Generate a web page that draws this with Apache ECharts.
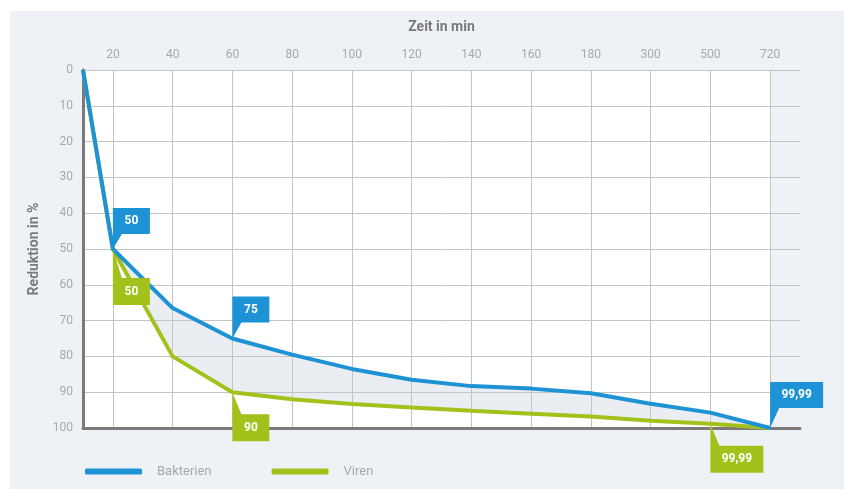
<!DOCTYPE html>
<html><head><meta charset="utf-8">
<script src="https://cdn.jsdelivr.net/npm/echarts@6/dist/echarts.min.js"></script>
<style>html,body{margin:0;padding:0;background:#fff}#c{width:844px;height:489px}</style>
</head><body><div id="c"></div>
<script>
// ---- data ----
const timeLabels = ['20','40','60','80','100','120','140','160','180','300','500','720'];
const times = [0,20,40,60,80,100,120,140,160,180,300,500,720];
const bakterien = [0,50,66.5,75,79.5,83.5,86.5,88.3,89,90.3,93.2,95.7,99.99];
const viren = [0,50,80,90,92,93.3,94.3,95.2,96,96.8,98,98.8,99.99];
const bakterienCallouts = [{t:20,text:'50'},{t:60,text:'75'},{t:720,text:'99,99'}];
const virenCallouts = [{t:20,text:'50'},{t:60,text:'90'},{t:500,text:'99,99'}];

// ---- helpers ----
const BLUE = '#1d92d4', GREEN = '#a2c21b';
const FONT = 'Roboto';
function xOf(t){ return t === 0 ? -0.5 : timeLabels.indexOf(String(t)); }
function yAt(arr, t){ return arr[times.indexOf(t)]; }
function calloutDown(item, arr, t){
  const w = item.text.length > 2 ? 53 : 37, h = 26;
  return {
    name: item.text, coord: [xOf(item.t), yAt(arr, item.t)],
    symbol: `path://M0 0 L${w} 0 L${w} ${h} L9 ${h} L0 ${h+t} Z`,
    symbolSize: [w, h+t], symbolOffset: [w/2, -(h+t)/2],
    label: { offset: [0, -t/2] }
  };
}
function calloutUp(item, arr, t){
  const w = item.text.length > 2 ? 53 : 37, h = 27;
  return {
    name: item.text, coord: [xOf(item.t), yAt(arr, item.t)],
    symbol: `path://M0 0 L9 ${t} L${w} ${t} L${w} ${t+h} L0 ${t+h} Z`,
    symbolSize: [w, h+t], symbolOffset: [w/2, (h+t)/2],
    label: { offset: [0, t/2] }
  };
}
const xs = times.map(xOf);
const mpLabel = { show: true, formatter: '{b}', color: '#fff', fontSize: 12, fontWeight: 'bold', fontFamily: FONT };

const chart = echarts.init(document.getElementById('c'), null, { renderer: 'canvas' });
chart.setOption({
  animation: false,
  backgroundColor: '#ffffff',
  textStyle: { fontFamily: FONT },
  grid: { left: 83, right: 44, top: 70, bottom: 61, containLabel: false },
  legend: {
    left: 80, top: 460, itemWidth: 57, itemHeight: 6, itemGap: 60, icon: 'roundRect',
    data: ['Bakterien', 'Viren'],
    textStyle: { color: '#a8a8a8', fontSize: 13, fontFamily: FONT, padding: [0,0,0,10] },
    selectedMode: false
  },
  xAxis: [
    {
      type: 'category', position: 'top', data: timeLabels, boundaryGap: true,
      name: 'Zeit in min', nameLocation: 'middle', nameGap: 36,
      nameTextStyle: { color: '#7a7a7a', fontSize: 14, fontWeight: 'bold', fontFamily: FONT },
      axisLine: { show: true, lineStyle: { color: '#c4c4c4', width: 1 } },
      axisTick: { show: false },
      axisLabel: { interval: 0, color: '#a8a8a8', fontSize: 12, margin: 9, fontFamily: FONT },
      splitLine: { show: true, interval: 0, alignWithLabel: true, lineStyle: { color: '#c4c4c4', width: 1 } }
    },
    {
      type: 'value', position: 'bottom', min: -0.5, max: 11.5,
      axisLine: { show: true, onZero: false, lineStyle: { color: '#7a7a7a', width: 3 } },
      axisTick: { show: false }, axisLabel: { show: false }, splitLine: { show: false }
    }
  ],
  yAxis: {
    type: 'value', inverse: true, min: 0, max: 100, interval: 10,
    name: 'Reduktion in %', nameLocation: 'middle', nameGap: 40, nameRotate: 90,
    nameTextStyle: { color: '#7a7a7a', fontSize: 14, fontWeight: 'bold', fontFamily: FONT },
    axisLine: { show: true, onZero: false, lineStyle: { color: '#7a7a7a', width: 3 } },
    axisTick: { show: false },
    axisLabel: { color: '#a8a8a8', fontSize: 12, margin: 10, fontFamily: FONT },
    splitLine: { show: true, lineStyle: { color: '#c4c4c4', width: 1 } }
  },
  series: [
    {
      type: 'custom', xAxisIndex: 1, yAxisIndex: 0, silent: true, z: 1,
      data: [[0, 0]],
      renderItem: function (params, api) {
        const top = xs.map((x, i) => api.coord([x, bakterien[i]]));
        const bot = xs.map((x, i) => api.coord([x, viren[i]])).reverse();
        return { type: 'polygon', shape: { points: top.concat(bot) }, style: { fill: 'rgba(185,196,210,0.30)' } };
      }
    },
    {
      name: 'Viren', type: 'line', xAxisIndex: 1, symbol: 'none', color: GREEN,
      data: xs.map((x,i) => [x, viren[i]]),
      lineStyle: { color: GREEN, width: 4 }, z: 3,
      markPoint: {
        silent: true, itemStyle: { color: GREEN }, label: mpLabel, z: 10,
        data: [calloutUp(virenCallouts[0], viren, 29), calloutUp(virenCallouts[1], viren, 22), calloutUp(virenCallouts[2], viren, 22)]
      }
    },
    {
      name: 'Bakterien', type: 'line', xAxisIndex: 1, symbol: 'none', color: BLUE,
      data: xs.map((x,i) => [x, bakterien[i]]),
      lineStyle: { color: BLUE, width: 4 }, z: 4,
      markPoint: {
        silent: true, itemStyle: { color: BLUE }, label: mpLabel, z: 10,
        data: [calloutDown(bakterienCallouts[0], bakterien, 15), calloutDown(bakterienCallouts[1], bakterien, 16), calloutDown(bakterienCallouts[2], bakterien, 20)]
      }
    }
  ]
});

// white plot background up to the last category, light panel behind everything
const xl = chart.convertToPixel({ xAxisIndex: 1 }, -0.5);
const xr = chart.convertToPixel({ xAxisIndex: 1 }, xOf(720));
const yt = chart.convertToPixel({ yAxisIndex: 0 }, 0);
const yb = chart.convertToPixel({ yAxisIndex: 0 }, 100);
chart.setOption({
  graphic: [
    { type: 'rect', z: -20, silent: true, shape: { x: 10, y: 11, width: 834, height: 478 }, style: { fill: '#eef2f6' } },
    { type: 'rect', z: -10, silent: true, shape: { x: xl, y: yt, width: xr - xl, height: yb - yt }, style: { fill: '#ffffff' } }
  ]
});
</script>
</body></html>
